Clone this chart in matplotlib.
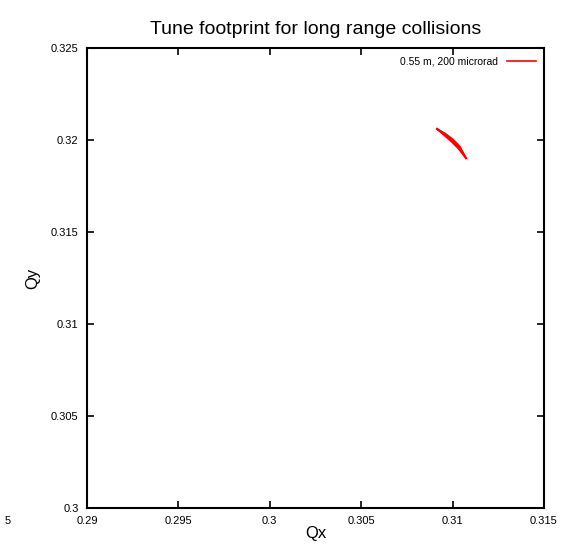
import matplotlib
matplotlib.use("Agg")
import matplotlib.pyplot as plt
from matplotlib import font_manager

names = {f.name for f in font_manager.fontManager.ttflist}
fam = ['Liberation Sans Narrow', 'Liberation Sans', 'DejaVu Sans'] if 'Liberation Sans Narrow' in names else ['Liberation Sans', 'DejaVu Sans']
plt.rcParams['font.family'] = fam

# Footprint lines (Qx, Qy)
line1_qx = [0.30915, 0.30960, 0.31000, 0.31040, 0.31073]
line1_qy = [0.32060, 0.32035, 0.32005, 0.31965, 0.31902]
line2_qx = [0.30915, 0.30955, 0.30995, 0.31030, 0.31073]
line2_qy = [0.32060, 0.32025, 0.31990, 0.31955, 0.31902]
line3_qx = [0.30915, 0.30958, 0.30998, 0.31035, 0.31073]
line3_qy = [0.32060, 0.32030, 0.31997, 0.31960, 0.31902]
series_label = "0.55 m, 200 microrad"

xticks = [0.29, 0.295, 0.3, 0.305, 0.31, 0.315]
xticklabels = ["0.29", "0.295", "0.3", "0.305", "0.31", "0.315"]
yticks = [0.3, 0.305, 0.31, 0.315, 0.32, 0.325]
yticklabels = ["0.3", "0.305", "0.31", "0.315", "0.32", "0.325"]

fig = plt.figure(figsize=(5.66, 5.45), dpi=100)
ax = fig.add_axes([87/566, 1-508/545, (544-87)/566, (508-48)/545])

ax.plot(line1_qx, line1_qy, color='red', lw=1.2, label=series_label)
ax.plot(line2_qx, line2_qy, color='red', lw=1.2)
ax.plot(line3_qx, line3_qy, color='red', lw=1.6)

ax.set_xlim(0.29, 0.315)
ax.set_ylim(0.3, 0.325)
ax.set_xticks(xticks)
ax.set_xticklabels(xticklabels)
ax.set_yticks(yticks)
ax.set_yticklabels(yticklabels)
ax.tick_params(direction='in', length=5, width=1.2, top=True, right=True, labelsize=8, pad=6)
for s in ax.spines.values():
    s.set_linewidth(1.5)

ax.set_xlabel("Qx", fontsize=12, labelpad=0)
ax.set_ylabel("Qy", fontsize=12, labelpad=8)
ax.set_title("Tune footprint for long range collisions", fontsize=14, pad=10)

leg = ax.legend(loc='upper right', frameon=False, fontsize=7.5, handlelength=2.8,
                markerfirst=False, borderaxespad=0.4)

fig.text(5/566, 1-521/545, "5", fontsize=8, va='center', ha='left')

fig.savefig("out.png", dpi=100)
